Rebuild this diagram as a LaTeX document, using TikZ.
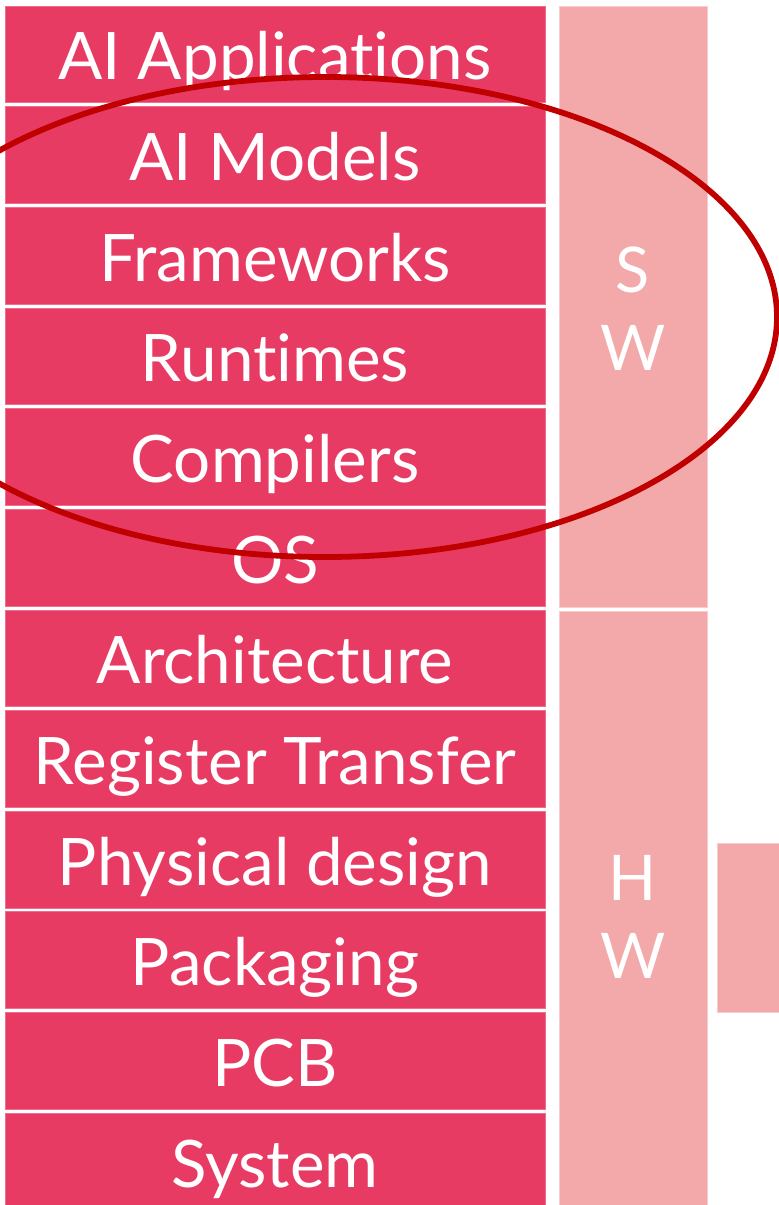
\documentclass[tikz,border=0pt]{standalone}
\usepackage{fontspec}
\setmainfont{Lato}[Ligatures=NoCommon]
\definecolor{layerred}{HTML}{E83B63}
\definecolor{layeredge}{HTML}{EE6E8B}
\definecolor{grouppink}{HTML}{F3A8AA}
\definecolor{groupedge}{HTML}{F8CBCC}
\definecolor{ringred}{HTML}{C00000}
\tikzset{
  layer/.style={fill=layerred, draw=layeredge, line width=0.8pt,
    minimum width=540pt, minimum height=96.8pt, inner sep=0pt,
    text=white, font=\fontsize{65.5}{78}\selectfont,
    text height=47pt, text depth=0pt},
  group/.style={fill=grouppink, draw=groupedge, line width=0.8pt},
  grouplabel/.style={text=white, align=center, inner sep=0pt,
    font=\fontsize{63}{78}\selectfont},
  ring/.style={draw=ringred, line width=5.8pt}
}
\begin{document}
\begin{tikzpicture}[x=1pt,y=-1pt]
  \useasboundingbox (0,0) rectangle (779,1205);
  \clip (0,0) rectangle (779,1205);
  % stack of layers, top to bottom
  \foreach \name/\label [count=\i from 0] in {
      app/AI Applications, models/AI Models, fw/Frameworks, rt/Runtimes,
      comp/Compilers, os/OS, arch/Architecture, rtl/Register Transfer,
      phys/Physical design, pkg/Packaging, pcb/PCB, sys/System}
  {
    \draw[fill=layerred, draw=layeredge, line width=0.8pt]
      (5, 6+100.65*\i) rectangle (545, 6+100.65*\i+96.8);
    \node[layer, draw=none, fill=none] (\name) at (275, 6+100.65*\i+50.4) {\label};
  }
  % software / hardware groups
  \draw[group] (559,6) rectangle (707,607);
  \node[grouplabel] (sw) at (633,309) {S\\W};
  \draw[group] (559,611) rectangle (707,1222);
  \node[grouplabel] (hw) at (633,917) {H\\W};
  \draw[group] (717,843) rectangle (800,1012);
  % highlight ring over the software layers
  \draw[ring] (325,317) ellipse [x radius=452, y radius=240];
\end{tikzpicture}
\end{document}
